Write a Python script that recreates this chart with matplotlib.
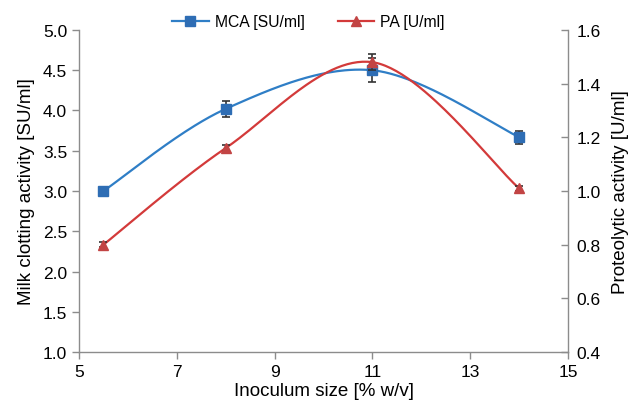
import matplotlib
matplotlib.use("Agg")
import matplotlib.pyplot as plt
import numpy as np
from matplotlib.lines import Line2D

plt.rcParams["font.family"] = ["Liberation Sans", "DejaVu Sans"]

# Data
inoculum = [5.5, 8, 11, 14]
mca = [3.00, 4.02, 4.50, 3.67]          # SU/ml (left axis)
mca_err = [0.04, 0.10, 0.15, 0.08]
pa = [0.80, 1.16, 1.48, 1.01]           # U/ml (right axis)
pa_err = [0.01, 0.01, 0.03, 0.01]

BLUE_LINE = "#2f7ec6"
BLUE_MARK = "#2e6db4"
RED_LINE = "#d33a3a"
RED_MARK = "#c24444"
GREY = "#8c8c8c"


def smooth(xs, ys, n=60):
    """Catmull-Rom style Bezier smoothing, like a spreadsheet 'smoothed line'."""
    xs = np.asarray(xs, float)
    ys = np.asarray(ys, float)
    pts = np.column_stack([xs, ys])
    out = []
    for i in range(len(pts) - 1):
        p0 = pts[i - 1] if i > 0 else pts[i]
        p1 = pts[i]
        p2 = pts[i + 1]
        p3 = pts[i + 2] if i + 2 < len(pts) else pts[i + 1]
        c1 = p1 + (p2 - p0) / 6.0
        c2 = p2 - (p3 - p1) / 6.0
        t = np.linspace(0, 1, n)[:, None]
        seg = ((1 - t) ** 3) * p1 + 3 * ((1 - t) ** 2) * t * c1 \
            + 3 * (1 - t) * t ** 2 * c2 + t ** 3 * p2
        out.append(seg if i == 0 else seg[1:])
    seg = np.vstack(out)
    return seg[:, 0], seg[:, 1]


fig = plt.figure(figsize=(6.44, 4.10), dpi=100)
ax = fig.add_axes([0.1227, 0.139, 0.7593, 0.7854])
ax2 = ax.twinx()

# MCA on left axis
sx, sy = smooth(inoculum, mca)
ax.plot(sx, sy, color=BLUE_LINE, lw=1.6, zorder=3)
ax.errorbar(inoculum, mca, yerr=mca_err, fmt="none", ecolor="#333333",
            elinewidth=1.2, capsize=3, capthick=1.2, zorder=4)
ax.plot(inoculum, mca, ls="none", marker="s", ms=6.5, color=BLUE_MARK,
        zorder=5)

# PA on right axis
sx, sy = smooth(inoculum, pa)
ax2.plot(sx, sy, color=RED_LINE, lw=1.6, zorder=3)
ax2.errorbar(inoculum, pa, yerr=pa_err, fmt="none", ecolor="#333333",
             elinewidth=1.2, capsize=3, capthick=1.2, zorder=4)
ax2.plot(inoculum, pa, ls="none", marker="^", ms=7, color=RED_MARK,
         zorder=5)

ax.set_xlim(5, 15)
ax.set_xticks([5, 7, 9, 11, 13, 15])
ax.set_ylim(1.0, 5.0)
ax.set_yticks(np.arange(1.0, 5.01, 0.5))
ax.yaxis.set_major_formatter(matplotlib.ticker.FormatStrFormatter("%.1f"))
ax2.set_ylim(0.4, 1.6)
ax2.set_yticks(np.arange(0.4, 1.61, 0.2))
ax2.yaxis.set_major_formatter(matplotlib.ticker.FormatStrFormatter("%.1f"))

for a in (ax, ax2):
    a.spines["top"].set_visible(False)
    for side in ("left", "right", "bottom"):
        a.spines[side].set_color(GREY)
        a.spines[side].set_linewidth(1.0)
    a.tick_params(colors=GREY, labelcolor="black", labelsize=12.5,
                  length=5, width=1.0, direction="out")
ax2.tick_params(axis="y", direction="in", pad=6)
ax.spines["right"].set_visible(False)
ax2.spines["left"].set_visible(False)
ax2.spines["bottom"].set_visible(False)

ax.set_xlabel("Inoculum size [% w/v]", fontsize=13.5, labelpad=2)
ax.set_ylabel("Milk clotting activity [SU/ml]", fontsize=13.5, labelpad=6)
ax2.set_ylabel("Proteolytic activity [U/ml]", fontsize=13.5, labelpad=8)

handles = [
    Line2D([0], [0], color=BLUE_LINE, lw=1.6, marker="s", ms=6.5,
           markerfacecolor=BLUE_MARK, markeredgecolor=BLUE_MARK,
           label="MCA [SU/ml]"),
    Line2D([0], [0], color=RED_LINE, lw=1.6, marker="^", ms=7,
           markerfacecolor=RED_MARK, markeredgecolor=RED_MARK,
           label="PA [U/ml]"),
]
fig.legend(handles=handles, loc="center", bbox_to_anchor=(0.479, 0.944),
           ncol=2, frameon=False, fontsize=11.3, handlelength=2.3,
           columnspacing=2.1, handletextpad=0.4)

fig.savefig("out.png", dpi=100)
